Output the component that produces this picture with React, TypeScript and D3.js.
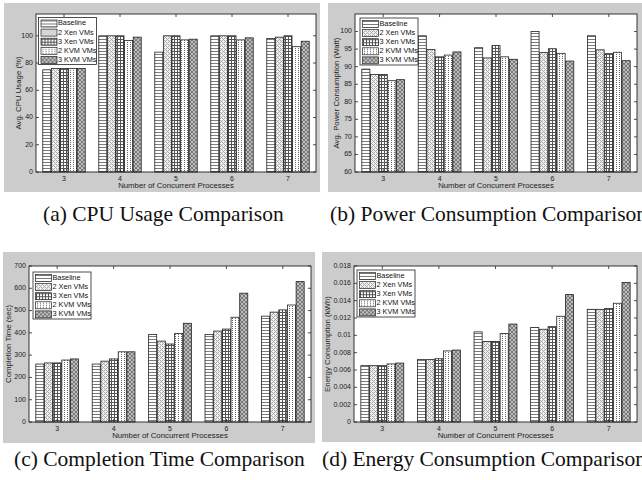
import React from "react";
import * as d3 from "d3";

const categories = [3, 4, 5, 6, 7];
const seriesNames = ["Baseline", "2 Xen VMs", "3 Xen VMs", "2 KVM VMs", "3 KVM VMs"];

// one row per series (Baseline, 2 Xen, 3 Xen, 2 KVM, 3 KVM), one column per category
const cpuUsage = [
  [75, 100, 88, 100, 98],
  [76, 100, 100, 100, 99],
  [76, 100, 100, 100, 100],
  [76, 96.5, 97, 97, 92],
  [76, 99, 97.5, 98.5, 96],
];
const powerConsumption = [
  [89.3, 98.8, 95.4, 100, 98.8],
  [87.8, 94.9, 92.5, 94, 94.8],
  [87.8, 92.8, 96, 95.1, 93.7],
  [86, 93.3, 92.8, 93.8, 94.1],
  [86.3, 94.2, 92.1, 91.6, 91.7],
];
const completionTime = [
  [260, 260, 393, 393, 475],
  [265, 273, 363, 408, 493],
  [265, 283, 350, 417, 503],
  [278, 315, 397, 470, 525],
  [283, 315, 443, 578, 630],
];
const energyConsumption = [
  [0.0065, 0.0072, 0.0104, 0.0109, 0.013],
  [0.0065, 0.0072, 0.0093, 0.0107, 0.013],
  [0.0065, 0.0073, 0.0093, 0.011, 0.0131],
  [0.0067, 0.0082, 0.0102, 0.0122, 0.0137],
  [0.0068, 0.0083, 0.0113, 0.0147, 0.0161],
];

const cpuTicks = [0, 20, 40, 60, 80, 100];
const powerTicks = [60, 65, 70, 75, 80, 85, 90, 95, 100];
const timeTicks = [0, 100, 200, 300, 400, 500, 600, 700];
const energyTicks = [0, 0.002, 0.004, 0.006, 0.008, 0.01, 0.012, 0.014, 0.016, 0.018];

const captions = [
  "(a) CPU Usage Comparison",
  "(b) Power Consumption Comparison",
  "(c) Completion Time Comparison",
  "(d) Energy Consumption Comparison",
];

const AXFONT = "'Liberation Sans', Arial, sans-serif";
const SERIF = "'Liberation Serif', 'Times New Roman', serif";
const FS = 7;

type PanelProps = {
  bg: { x: number; y: number; w: number; h: number };
  box: { x0: number; x1: number; y0: number; y1: number };
  yDomain: [number, number];
  ticks: number[];
  data: number[][];
  ylabel: string;
  ylabelX: number;
  legend: { x: number; y: number };
};

const fmt = (v: number) => String(+v.toFixed(4));

function Panel({ bg, box, yDomain, ticks, data, ylabel, ylabelX, legend }: PanelProps) {
  const x = d3.scaleLinear().domain([2.5, 7.5]).range([box.x0, box.x1]);
  const y = d3.scaleLinear().domain(yDomain).range([box.y1, box.y0]);
  const pitch = 0.1538;
  const bw = pitch * 0.93;
  const tl = 3;
  const lw = 58;
  const lh = 47;
  const unit = x(3.5) - x(2.5);
  return (
    <g>
      <rect x={bg.x} y={bg.y} width={bg.w} height={bg.h} fill="#cccccc" />
      <rect x={box.x0} y={box.y0} width={box.x1 - box.x0} height={box.y1 - box.y0} fill="#fff" />
      {data.map((vals, si) =>
        vals.map((v, ci) => {
          const cx = x(categories[ci]) + (si - 2) * pitch * unit;
          const w = bw * unit;
          return (
            <rect
              key={`${si}-${ci}`}
              x={cx - w / 2}
              y={y(v)}
              width={w}
              height={y(yDomain[0]) - y(v)}
              fill={`url(#hatch${si})`}
              stroke="#222"
              strokeWidth={0.8}
            />
          );
        })
      )}
      <rect
        x={box.x0}
        y={box.y0}
        width={box.x1 - box.x0}
        height={box.y1 - box.y0}
        fill="none"
        stroke="#222"
        strokeWidth={0.9}
      />
      {ticks.map((t) => (
        <g key={`y${t}`}>
          <line x1={box.x0} x2={box.x0 + tl} y1={y(t)} y2={y(t)} stroke="#222" strokeWidth={0.8} />
          <line x1={box.x1} x2={box.x1 - tl} y1={y(t)} y2={y(t)} stroke="#222" strokeWidth={0.8} />
          <text
            x={box.x0 - 3}
            y={y(t)}
            textAnchor="end"
            dominantBaseline="middle"
            fontSize={FS}
            fontFamily={AXFONT}
            fill="#222"
          >
            {fmt(t)}
          </text>
        </g>
      ))}
      {categories.map((c) => (
        <g key={`x${c}`}>
          <line x1={x(c)} x2={x(c)} y1={box.y1} y2={box.y1 - tl} stroke="#222" strokeWidth={0.8} />
          <line x1={x(c)} x2={x(c)} y1={box.y0} y2={box.y0 + tl} stroke="#222" strokeWidth={0.8} />
          <text x={x(c)} y={box.y1 + 8.5} textAnchor="middle" fontSize={FS} fontFamily={AXFONT} fill="#222">
            {c}
          </text>
        </g>
      ))}
      <text
        x={(box.x0 + box.x1) / 2}
        y={box.y1 + 16}
        textAnchor="middle"
        fontSize={7.8}
        fontFamily={AXFONT}
        fill="#222"
      >
        Number of Concurrent Processes
      </text>
      <text
        transform={`translate(${ylabelX},${(box.y0 + box.y1) / 2}) rotate(-90)`}
        textAnchor="middle"
        dominantBaseline="middle"
        fontSize={7.8}
        fontFamily={AXFONT}
        fill="#222"
      >
        {ylabel}
      </text>
      <g transform={`translate(${legend.x},${legend.y})`}>
        <rect x={0} y={0} width={lw} height={lh} fill="#fff" stroke="#222" strokeWidth={0.8} />
        {seriesNames.map((n, i) => (
          <g key={n} transform={`translate(0,${6 + i * 9.1})`}>
            <rect x={2.5} y={-3.5} width={16} height={7} fill={`url(#hatch${i})`} stroke="#222" strokeWidth={0.7} />
            <text x={19.5} y={0} dominantBaseline="middle" fontSize={7.3} fontFamily={AXFONT} fill="#111">
              {n}
            </text>
          </g>
        ))}
      </g>
    </g>
  );
}

export default function App() {
  return (
    <svg
      width={642}
      height={480}
      style={{ position: "absolute", left: 0, top: 0, background: "#fff" }}
    >
      <defs>
        <pattern id="hatch0" width={3} height={3} patternUnits="userSpaceOnUse">
          <rect width={3} height={3} fill="#fff" />
          <rect width={3} height={1} fill="#7a7a7a" />
        </pattern>
        <pattern id="hatch1" width={4} height={4} patternUnits="userSpaceOnUse">
          <rect width={4} height={4} fill="#f2f2f2" />
          {[
            [0, 0], [1, 1], [2, 2], [3, 3], [0, 2], [2, 0],
          ].map(([a, b], k) => (
            <rect key={k} x={a} y={b} width={1} height={1} fill="#a8a8a8" />
          ))}
        </pattern>
        <pattern id="hatch2" width={3} height={3} patternUnits="userSpaceOnUse">
          <rect width={3} height={3} fill="#fff" />
          <rect width={3} height={1} fill="#555" />
          <rect width={1} height={3} fill="#555" />
        </pattern>
        <pattern id="hatch3" width={3} height={2} patternUnits="userSpaceOnUse">
          <rect width={3} height={2} fill="#fff" />
          <rect x={1} y={0} width={1} height={1} fill="#666" />
        </pattern>
        <pattern id="hatch4" width={4} height={4} patternUnits="userSpaceOnUse">
          <rect width={4} height={4} fill="#bdbdbd" />
          {[
            [0, 0], [1, 1], [2, 2], [3, 3], [0, 3], [1, 2], [2, 1], [3, 0],
          ].map(([a, b], k) => (
            <rect key={k} x={a} y={b} width={1} height={1} fill="#7a7a7a" />
          ))}
        </pattern>
      </defs>
      <Panel
        bg={{ x: 4, y: 3, w: 316, h: 189 }}
        box={{ x0: 36, x1: 316, y0: 14, y1: 172 }}
        yDomain={[0, 116]}
        ticks={cpuTicks}
        data={cpuUsage}
        ylabel="Avg. CPU Usage (%)"
        ylabelX={19}
        legend={{ x: 38.5, y: 17.5 }}
      />
      <Panel
        bg={{ x: 328, y: 3, w: 314, h: 189 }}
        box={{ x0: 355, x1: 637, y0: 14, y1: 172 }}
        yDomain={[60, 105]}
        ticks={powerTicks}
        data={powerConsumption}
        ylabel="Avg. Power Consumption (Watt)"
        ylabelX={337}
        legend={{ x: 360, y: 18 }}
      />
      <Panel
        bg={{ x: 3, y: 252, w: 312, h: 191 }}
        box={{ x0: 29, x1: 311, y0: 266, y1: 422 }}
        yDomain={[0, 700]}
        ticks={timeTicks}
        data={completionTime}
        ylabel="Completion Time (sec)"
        ylabelX={8.5}
        legend={{ x: 33, y: 272 }}
      />
      <Panel
        bg={{ x: 322, y: 252, w: 320, h: 190 }}
        box={{ x0: 354, x1: 637, y0: 266, y1: 422 }}
        yDomain={[0, 0.018]}
        ticks={energyTicks}
        data={energyConsumption}
        ylabel="Energy Consumption (kWh)"
        ylabelX={327.5}
        legend={{ x: 357, y: 270 }}
      />
      <text x={43} y={221} fontSize={21.5} fontFamily={SERIF} fill="#111">{captions[0]}</text>
      <text x={330} y={221} fontSize={21.5} fontFamily={SERIF} fill="#111">{captions[1]}</text>
      <text x={14} y={465.5} fontSize={21.5} fontFamily={SERIF} fill="#111">{captions[2]}</text>
      <text x={322} y={465.5} fontSize={21.5} fontFamily={SERIF} fill="#111">{captions[3]}</text>
    </svg>
  );
}
